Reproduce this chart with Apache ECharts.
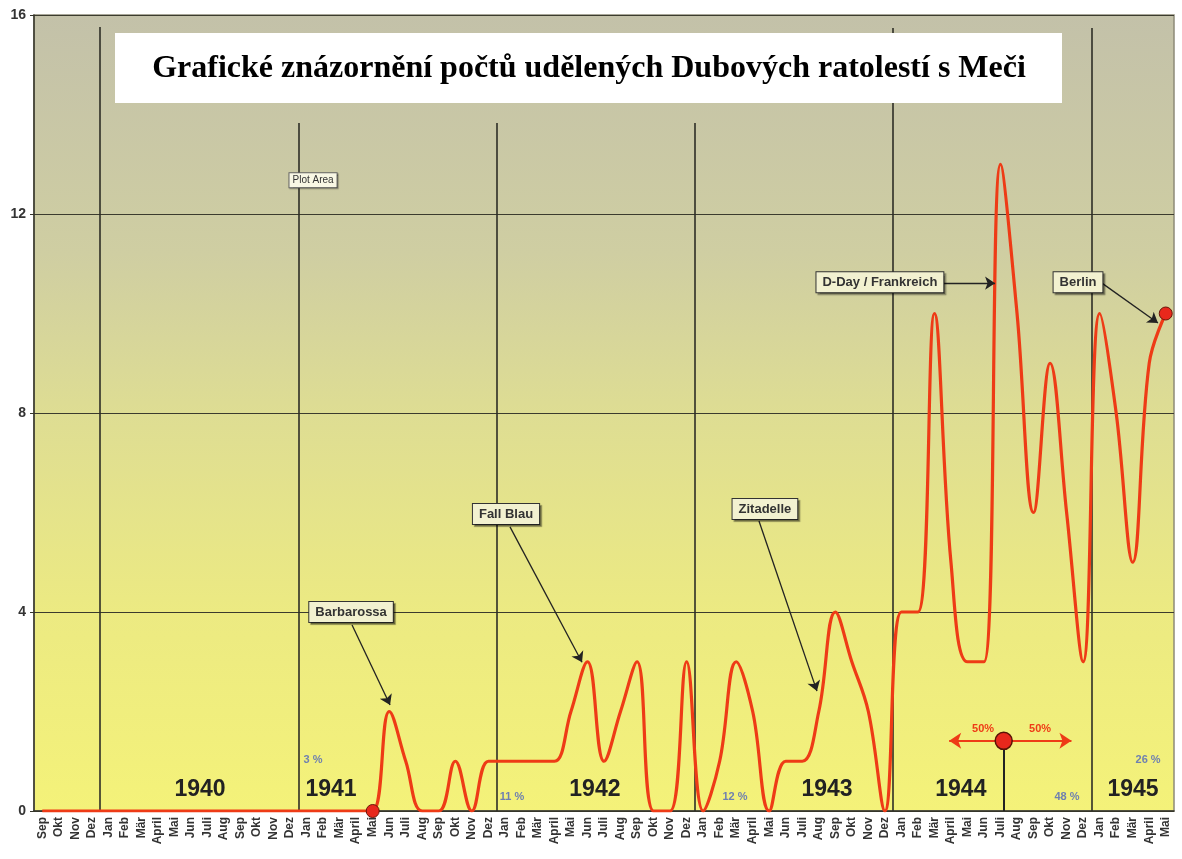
<!DOCTYPE html>
<html>
<head>
<meta charset="utf-8">
<script src="https://cdn.jsdelivr.net/npm/echarts@6/dist/echarts.min.js"></script>
<style>
  html, body { margin: 0; padding: 0; background: #fff; }
  #chart { width: 1182px; height: 859px; }
</style>
</head>
<body>
<div id="chart"></div>
<script>
// monthly awards, Sep 1939 .. Mai 1945
const monthNames = ['Jan', 'Feb', 'Mär', 'April', 'Mai', 'Jun', 'Juli', 'Aug', 'Sep', 'Okt', 'Nov', 'Dez'];
const awards1939 = [0, 0, 0, 0];
const awards1940 = [0, 0, 0, 0, 0, 0, 0, 0, 0, 0, 0, 0];
const awards1941 = [0, 0, 0, 0, 0, 2, 1, 0, 0, 1, 0, 1];
const awards1942 = [1, 1, 1, 1, 2, 3, 1, 2, 3, 0, 0, 3];
const awards1943 = [0, 1, 3, 2, 0, 1, 1, 2, 4, 3, 2, 0];
const awards1944 = [4, 4, 10, 5, 3, 3, 13, 10, 6, 9, 6, 3];
const awards1945 = [10, 8, 5, 9, 10];
const years = ['1940', '1941', '1942', '1943', '1944', '1945'];
const events = ['Barbarossa', 'Fall Blau', 'Zitadelle', 'D-Day / Frankreich', 'Berlin'];
const titleText = 'Grafické znázornění počtů udělených Dubových ratolestí s Meči';

const yearly = [awards1940, awards1941, awards1942, awards1943, awards1944, awards1945];
const awards = [].concat(awards1939, ...yearly);
const months = awards.map((v, i) => monthNames[(8 + i) % 12]);
const total = awards.reduce((a, b) => a + b, 0);
const shares = yearly.map(a => Math.round(a.reduce((s, v) => s + v, 0) / total * 100) + ' %');

// red dots: start of Barbarossa (Mai 1941) and the last month
const dotIndex = [20, awards.length - 1];

// month in which half of all awards were reached
let cum = 0, median = 0;
for (let i = 0; i < awards.length; i++) {
  if (cum + awards[i] >= total / 2) { median = i + (total / 2 - cum) / awards[i]; break; }
  cum += awards[i];
}

const FONT = 'Liberation Sans';
const RED = '#ee3b16';
const DARK = '#34342a';

const yearStarts = [];
months.forEach((m, i) => { if (m === 'Jan') yearStarts.push(i); });
const sepTop = [15.76, 13.83, 13.83, 13.83, 15.74, 15.74];

const yearPos = [[10.05, 0.42], [17.98, 0.42], [33.95, 0.42], [48.0, 0.42], [56.1, 0.42], [66.52, 0.42]];
const sharePos = [null, [16.89, 1.03], [28.93, 0.28], [42.43, 0.28], [62.52, 0.28], [67.43, 1.03]];
const eventPos = [[19.19, 4.0], [28.57, 5.97], [44.24, 6.07], [51.2, 10.63], [63.19, 10.63]];
const eventArrows = [
  [[19.25, 3.74], [21.55, 2.13]],
  [[28.81, 5.71], [33.17, 2.99]],
  [[43.88, 5.83], [47.39, 2.41]],
  [[54.72, 10.61], [58.17, 10.61]],
  [[64.64, 10.61], [68.03, 9.81]]
];
const medianY = 1.41;

function textSeries(items, label, z) {
  return {
    type: 'scatter', xAxisIndex: 1, yAxisIndex: 0, silent: true, z: z || 8,
    symbolSize: 1, itemStyle: { color: 'rgba(0,0,0,0)', opacity: 1 },
    label: Object.assign({ show: true, position: 'inside', formatter: p => p.name, fontFamily: FONT }, label),
    data: items
  };
}

const chart = echarts.init(document.getElementById('chart'), null, { renderer: 'canvas' });

chart.setOption({
  animation: false,
  backgroundColor: '#fff',
  grid: {
    left: 34, right: 8, top: 15, bottom: 48, show: true,
    backgroundColor: new echarts.graphic.LinearGradient(0, 0, 0, 1, [
      { offset: 0, color: '#c3c1a9' },
      { offset: 0.3, color: '#cfcea2' },
      { offset: 0.5, color: '#dedd93' },
      { offset: 0.75, color: '#ecea82' },
      { offset: 1, color: '#f4f279' }
    ]),
    borderColor: '#8d8b78', borderWidth: 1.5
  },
  xAxis: [{
    type: 'category', data: months, boundaryGap: true,
    axisLine: { lineStyle: { color: DARK, width: 1.5 } },
    axisTick: { length: 5, lineStyle: { color: DARK } },
    axisLabel: { interval: 0, rotate: 90, margin: 6, fontFamily: FONT, fontWeight: 'bold', fontSize: 12, color: '#333' },
    splitLine: { show: false }
  }, {
    type: 'value', min: 0, max: awards.length, show: false
  }],
  yAxis: {
    type: 'value', min: 0, max: 16, interval: 4,
    axisLine: { show: true, lineStyle: { color: DARK, width: 1.5 } },
    axisTick: { show: true, length: 4, lineStyle: { color: DARK } },
    axisLabel: { margin: 8, fontFamily: FONT, fontWeight: 'bold', fontSize: 14, color: '#333' },
    splitLine: { lineStyle: { color: '#3b3b2e', width: 1.2 } }
  },
  graphic: [
    { type: 'rect', shape: { x: 115, y: 33, width: 947, height: 70 }, style: { fill: '#fff' }, z: 100 },
    { type: 'text', z: 101, style: { text: titleText, x: 589, y: 69, align: 'center', verticalAlign: 'middle', textAlign: 'center', textVerticalAlign: 'middle', font: 'bold 32px "Liberation Serif"', fill: '#000' } }
  ],
  series: [
    // year separators
    {
      type: 'lines', coordinateSystem: 'cartesian2d', xAxisIndex: 1, yAxisIndex: 0, silent: true, z: 2,
      symbol: ['none', 'none'],
      lineStyle: { color: '#2e2e26', width: 1.6, opacity: 1 },
      data: yearStarts.map((s, k) => ({ coords: [[s, sepTop[k]], [s, 0]] }))
    },
    // awards per month
    {
      type: 'line', xAxisIndex: 0, yAxisIndex: 0, z: 5, smooth: 0.4,
      symbol: 'none', showAllSymbol: true,
      lineStyle: { color: RED, width: 3.2 },
      data: awards.map((v, i) => dotIndex.indexOf(i) >= 0 ? {
        value: v, symbol: 'circle', symbolSize: 13,
        itemStyle: { color: '#e8281c', borderColor: '#6b1508', borderWidth: 1, opacity: 1 }
      } : v)
    },
    // event arrows
    {
      type: 'lines', coordinateSystem: 'cartesian2d', xAxisIndex: 1, yAxisIndex: 0, silent: true, z: 6,
      symbol: ['none', 'arrow'], symbolSize: 10,
      lineStyle: { color: '#222', width: 1.3, opacity: 1 },
      data: eventArrows.map(c => ({ coords: c }))
    },
    // median marker: stem and arrows
    {
      type: 'lines', coordinateSystem: 'cartesian2d', xAxisIndex: 1, yAxisIndex: 0, silent: true, z: 6,
      symbol: ['none', 'none'],
      lineStyle: { color: '#222', width: 2, opacity: 1 },
      data: [{ coords: [[median, medianY], [median, 0]] }]
    },
    {
      type: 'lines', coordinateSystem: 'cartesian2d', xAxisIndex: 1, yAxisIndex: 0, silent: true, z: 6,
      symbol: ['none', 'arrow'], symbolSize: 12,
      lineStyle: { color: RED, width: 2, opacity: 1 },
      data: [
        { coords: [[median, medianY], [median - 3.3, medianY]] },
        { coords: [[median, medianY], [median + 4.1, medianY]] }
      ]
    },
    {
      type: 'scatter', xAxisIndex: 1, yAxisIndex: 0, silent: true, z: 7,
      symbol: 'circle', symbolSize: 17,
      itemStyle: { color: '#e8281c', borderColor: '#5a1206', borderWidth: 1.5, opacity: 1 },
      data: [[median, medianY]]
    },
    textSeries([
      { name: '50%', value: [median - 1.25, medianY + 0.24] },
      { name: '50%', value: [median + 2.2, medianY + 0.24] }
    ], { fontSize: 11, fontWeight: 'bold', color: RED }),
    // year captions and shares
    textSeries(years.map((y, k) => ({ name: y, value: yearPos[k] })),
      { fontSize: 23, fontWeight: 'bold', color: '#222' }),
    textSeries(shares.map((s, k) => sharePos[k] ? { name: s, value: sharePos[k] } : null).filter(Boolean),
      { fontSize: 11, fontWeight: 'bold', color: '#6f80b0' }),
    // event boxes
    textSeries(events.map((e, k) => ({ name: e, value: eventPos[k] })), {
      fontSize: 13, fontWeight: 'bold', color: '#333',
      backgroundColor: '#f2f1d0', borderColor: '#333', borderWidth: 1, padding: [4, 6, 3, 6],
      shadowColor: 'rgba(0,0,0,0.35)', shadowOffsetX: 2, shadowOffsetY: 2, shadowBlur: 1
    }, 9),
    textSeries([{ name: 'Plot Area', value: [16.89, 12.68] }], {
      fontSize: 10, color: '#333', backgroundColor: '#f8f7e4', borderColor: '#666', borderWidth: 1, padding: [2, 3],
      shadowColor: 'rgba(0,0,0,0.3)', shadowOffsetX: 1, shadowOffsetY: 1, shadowBlur: 1
    }, 9)
  ]
});
</script>
</body>
</html>
